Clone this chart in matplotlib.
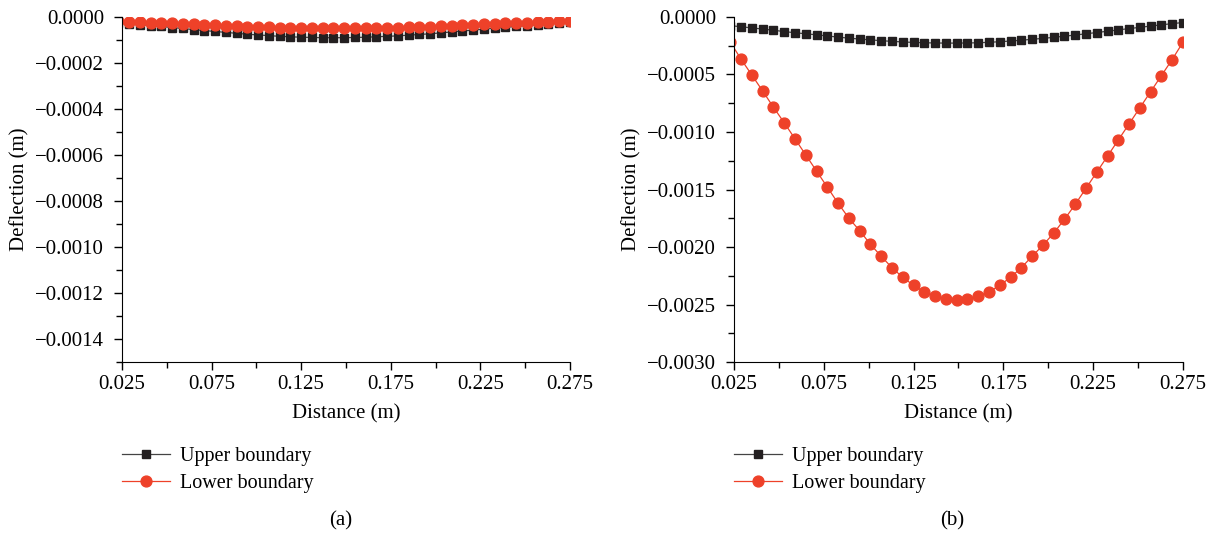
import numpy as np
import matplotlib
matplotlib.use("Agg")
import matplotlib.pyplot as plt
from matplotlib.ticker import MultipleLocator, FuncFormatter, FixedLocator


# distance along the section (m), 0.006 m spacing
distance = [0.023 + 0.006 * k for k in range(43)]
xticks = [0.025, 0.075, 0.125, 0.175, 0.225, 0.275]

# panel (a) deflection (x1e-5 m)
upper_a = [-2.5, -2.9, -3.3, -3.7, -4.1, -4.6, -5.0, -5.5, -5.9, -6.3, -6.7,
           -7.1, -7.5, -7.8, -8.1, -8.4, -8.6, -8.8, -8.9, -9.0, -9.0, -9.0,
           -8.9, -8.8, -8.6, -8.4, -8.2, -7.9, -7.6, -7.3, -6.9, -6.5, -6.1,
           -5.7, -5.3, -4.9, -4.5, -4.1, -3.7, -3.3, -2.9, -2.6, -2.3]
lower_a = [-1.8, -2.0, -2.2, -2.4, -2.6, -2.8, -3.0, -3.2, -3.4, -3.6, -3.8,
           -4.0, -4.2, -4.4, -4.5, -4.6, -4.7, -4.8, -4.9, -5.0, -5.0, -5.0,
           -5.0, -4.9, -4.8, -4.7, -4.6, -4.5, -4.4, -4.2, -4.0, -3.8, -3.6,
           -3.4, -3.2, -3.0, -2.8, -2.6, -2.4, -2.2, -2.0, -1.8, -1.6]

# panel (b) deflection (x1e-5 m)
upper_b = [-7.5, -8.5, -9.5, -10.5, -11.5, -12.7, -13.7, -14.6, -15.5, -16.5,
           -17.5, -18.4, -19.2, -19.9, -20.6, -21.2, -21.7, -22.1, -22.4,
           -22.6, -22.7, -22.7, -22.6, -22.4, -22.0, -21.5, -20.9, -20.2,
           -19.4, -18.6, -17.7, -16.7, -15.7, -14.6, -13.5, -12.4, -11.2,
           -10.1, -9.0, -7.9, -6.8, -5.8, -4.8]
lower_b = [-22, -36.8, -50.6, -64.4, -78.5, -92, -106, -120, -134, -148, -162,
           -175, -185.8, -197.7, -208.1, -218, -226.4, -233.3, -239.1, -242.6,
           -245.2, -246.4, -245.2, -242.6, -239.1, -233.3, -226.4, -218,
           -208.1, -198.5, -188, -176, -163, -149, -135, -121, -107, -93,
           -79, -65, -51, -37, -22]

upper_a = np.array(upper_a) * 1e-5
lower_a = np.array(lower_a) * 1e-5
upper_b = np.array(upper_b) * 1e-5
lower_b = np.array(lower_b) * 1e-5

plt.rcParams["font.family"] = ["Liberation Serif", "DejaVu Serif"]
plt.rcParams["font.size"] = 15

black = "#231f20"
red = "#ee4129"

fig = plt.figure(figsize=(12.16, 5.36), dpi=100)
ax_a = fig.add_axes([0.1003, 0.3246, 0.3684, 0.6437])
ax_b = fig.add_axes([0.6036, 0.3246, 0.3692, 0.6437])


def minus(fmt):
    return FuncFormatter(lambda v, p: (fmt % v).replace("-", "\u2212"))


panels = [(ax_a, upper_a, lower_a, 0.0002, -0.0015, "(a)", 0.28),
          (ax_b, upper_b, lower_b, 0.0005, -0.0030, "(b)", 0.783)]

for ax, up, lo, step, ymin, tag, tx in panels:
    ax.plot(distance, up, color="#444444", lw=0.9, marker="s", ms=6.2,
            mfc=black, mec=black, label="Upper boundary")
    ax.plot(distance, lo, color=red, lw=0.9, marker="o", ms=7.8,
            mfc=red, mec=red, label="Lower boundary")
    ax.set_xlim(0.025, 0.275)
    ax.set_ylim(ymin, 0)
    ax.spines["top"].set_visible(False)
    ax.spines["right"].set_visible(False)
    ax.xaxis.set_major_locator(FixedLocator(xticks))
    ax.xaxis.set_minor_locator(MultipleLocator(0.025))
    ax.yaxis.set_major_locator(MultipleLocator(step))
    ax.yaxis.set_minor_locator(MultipleLocator(step / 2))
    ax.xaxis.set_major_formatter(minus("%.3f"))
    ax.yaxis.set_major_formatter(minus("%.4f"))
    ax.tick_params(which="major", direction="out", length=6, width=1)
    ax.tick_params(which="minor", direction="out", length=4, width=1)
    ax.tick_params(axis="y", which="major", pad=7)
    ax.set_xlabel("Distance (m)", labelpad=7)
    ax.set_ylabel("Deflection (m)", labelpad=4)
    pos = ax.get_position()
    ax.legend(loc="upper left", bbox_to_anchor=(pos.x0, 0.166),
              bbox_transform=fig.transFigure, frameon=False, fontsize=14.5,
              handlelength=2.4, handletextpad=0.5, labelspacing=0.4,
              borderaxespad=0, borderpad=0)
    fig.text(tx, 0.028, tag, ha="center", va="center")

fig.savefig("out.png", dpi=100)
